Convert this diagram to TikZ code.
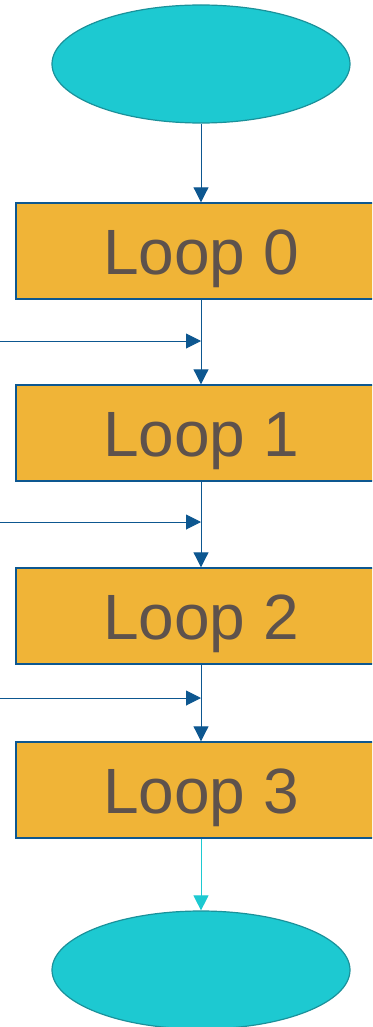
\documentclass[tikz,border=0pt]{standalone}
\usepackage{fontspec}
\setmainfont{Liberation Sans}
\usetikzlibrary{shapes.geometric,arrows.meta}

\definecolor{termfill}{HTML}{1DC9D1}
\definecolor{termline}{HTML}{1A919A}
\definecolor{boxfill}{HTML}{F0B437}
\definecolor{boxline}{HTML}{0D5790}
\definecolor{textgray}{HTML}{5E524C}

\tikzset{
    terminal/.style={ellipse, draw=termline, line width=1.2pt, fill=termfill,
        minimum width=298pt, minimum height=118pt, inner sep=0pt},
    loopbox/.style={rectangle, draw=boxline, line width=1.4pt, fill=boxfill,
        minimum width=370pt, minimum height=96pt, inner sep=0pt,
        font=\fontsize{64}{68}\selectfont, text=textgray,
        text height=46pt, text depth=0pt},
    flow/.style={draw=boxline, line width=1pt,
        -{Triangle[length=15pt,width=15pt]}},
    flowend/.style={flow, draw=termfill}
}

\begin{document}
\begin{tikzpicture}[x=1pt, y=-1pt]
    \useasboundingbox (0,0) rectangle (372,1027);
    \clip (0,0) rectangle (372,1027);

    \node[terminal] (start) at (201,64) {};
    % the four loop stages
    \foreach \i/\y in {0/251,1/433,2/616,3/790}
    {
        \node[loopbox] (loop\i) at (201,\y) {Loop \i};
    }
    \node[terminal] (stop) at (201,970) {};

    \draw[flow] (start) -- (loop0);
    \foreach \a/\b/\y in {0/1/341,1/2/522,2/3/698}
    {
        \draw[flow] (loop\a) -- (loop\b);
        \coordinate (in\b) at (0,\y); % input from the left
        \draw[flow] (in\b) -- (in\b -| loop\b.north);
    }
    \draw[flowend] (loop3) -- (stop);
\end{tikzpicture}
\end{document}
